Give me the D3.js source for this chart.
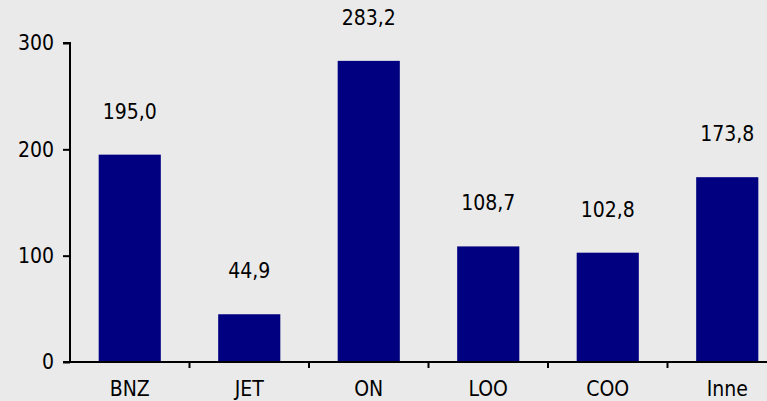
<!DOCTYPE html>
<html>
<head>
<meta charset="utf-8">
<script src="https://cdn.jsdelivr.net/npm/d3@7"></script>
<style>
  html, body { margin: 0; padding: 0; background: #eaeaea; }
  svg { display: block; }
  text { font-family: "DejaVu Sans Condensed", "DejaVu Sans", sans-serif; font-stretch: condensed; fill: #000; }
</style>
</head>
<body>
<svg id="chart" width="767" height="401"></svg>
<script>
const categories = ["BNZ", "JET", "ON", "LOO", "COO", "Inne"];
const values = [195.0, 44.9, 283.2, 108.7, 102.8, 173.8];
const valueLabels = ["195,0", "44,9", "283,2", "108,7", "102,8", "173,8"];
const yTicks = [0, 100, 200, 300];

const W = 767, H = 401;
const FONT = '"DejaVu Sans Condensed", "DejaVu Sans", sans-serif';
const svg = d3.select("#chart");
svg.append("rect").attr("width", W).attr("height", H).attr("fill", "#eaeaea");

const x = d3.scaleBand().domain(categories).range([70, 787]).paddingInner(0).paddingOuter(0);
const y = d3.scaleLinear().domain([0, 300]).range([362, 43]);
const barW = x.bandwidth() * 0.52;
const fontSize = 21;

// bars
svg.append("g").selectAll("rect").data(categories).join("rect")
  .attr("x", (d) => x(d) + (x.bandwidth() - barW) / 2)
  .attr("y", (d, i) => y(values[i]))
  .attr("width", barW)
  .attr("height", (d, i) => y(0) - y(values[i]))
  .attr("fill", "#000080");

// value labels
svg.append("g").selectAll("text").data(categories).join("text")
  .attr("x", (d) => x(d) + x.bandwidth() / 2)
  .attr("y", (d, i) => y(values[i]) - 36)
  .attr("text-anchor", "middle")
  .style("font-size", fontSize + "px")
  .text((d, i) => valueLabels[i]);

// y axis
const yAxis = d3.axisLeft(y).tickValues(yTicks).tickFormat(d3.format("d")).tickSize(7).tickPadding(9);
const gy = svg.append("g").attr("transform", "translate(70,0)").call(yAxis);
gy.select(".domain").attr("stroke", "#000").attr("stroke-width", 2).attr("d", "M-7,43H0V362");
gy.selectAll(".tick line").attr("stroke", "#000").attr("stroke-width", 2);
gy.selectAll(".tick text").style("font-size", fontSize + "px").style("font-family", FONT)
  .style("font-stretch", "condensed").attr("fill", "#000");

// x axis
const gx = svg.append("g").attr("transform", "translate(0,362)");
gx.append("line").attr("x1", 63).attr("x2", 787).attr("y1", 0).attr("y2", 0)
  .attr("stroke", "#000").attr("stroke-width", 2);
gx.selectAll("line.tk").data(categories.slice(1)).join("line").attr("class", "tk")
  .attr("x1", (d) => x(d)).attr("x2", (d) => x(d))
  .attr("y1", 0).attr("y2", 6)
  .attr("stroke", "#000").attr("stroke-width", 2);
gx.selectAll("text.cat").data(categories).join("text").attr("class", "cat")
  .attr("x", (d) => x(d) + x.bandwidth() / 2)
  .attr("y", 34)
  .attr("text-anchor", "middle")
  .style("font-size", fontSize + "px")
  .text((d) => d);
</script>
</body>
</html>
